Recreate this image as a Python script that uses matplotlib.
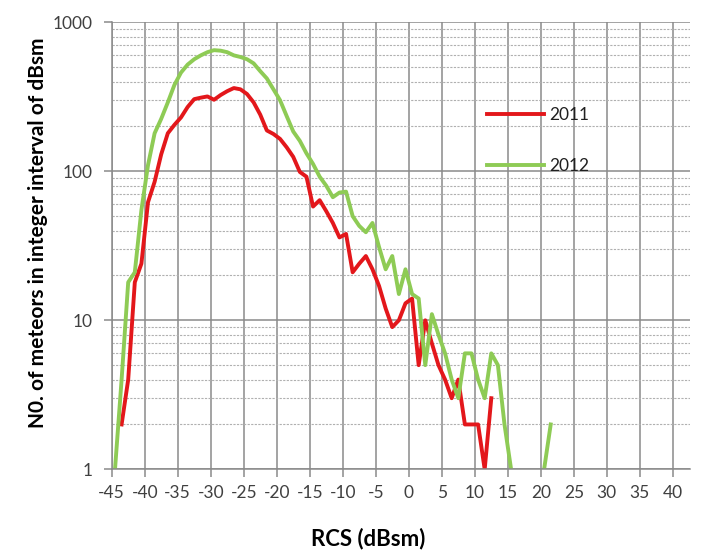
import matplotlib
matplotlib.use("Agg")
import matplotlib.pyplot as plt
import numpy as np
from matplotlib.ticker import FixedLocator, LogLocator, NullFormatter, FixedFormatter

nan = np.nan

# bin centres (dBsm)
rcs_centres = [-44.5, -43.5, -42.5, -41.5, -40.5, -39.5, -38.5, -37.5, -36.5, -35.5,
               -34.5, -33.5, -32.5, -31.5, -30.5, -29.5, -28.5, -27.5, -26.5, -25.5,
               -24.5, -23.5, -22.5, -21.5, -20.5, -19.5, -18.5, -17.5, -16.5, -15.5,
               -14.5, -13.5, -12.5, -11.5, -10.5, -9.5, -8.5, -7.5, -6.5, -5.5,
               -4.5, -3.5, -2.5, -1.5, -0.5, 0.5, 1.5, 2.5, 3.5, 4.5,
               5.5, 6.5, 7.5, 8.5, 9.5, 10.5, 11.5, 12.5, 13.5, 14.5,
               15.5, 16.5, 17.5, 18.5, 19.5, 20.5, 21.5]

counts_2011 = [nan, 2, 4, 18, 24, 62, 85, 130, 180, 205,
               230, 270, 305, 312, 318, 302, 325, 345, 362, 355,
               330, 290, 240, 188, 178, 165, 145, 125, 99, 92,
               58, 64, 54, 45, 36, 38, 21, 24, 27, 22,
               17, 12, 9, 10, 13, 14, 5, 10, 7, 5,
               4, 3, 4, 2, 2, 2, 1, 3, nan, nan,
               nan, nan, nan, nan, nan, nan, nan]

counts_2012 = [1, 4, 18, 21, 55, 110, 180, 225, 290, 380,
               460, 520, 565, 600, 630, 650, 645, 630, 600, 585,
               565, 530, 470, 420, 355, 300, 235, 185, 160, 132,
               112, 92, 80, 67, 72, 73, 50, 43, 39, 45,
               31, 22, 27, 15, 22, 15, 14, 5, 11, 8,
               6, 4, 3, 6, 6, 4, 3, 6, 5, 2,
               1, nan, nan, nan, nan, 1, 2]

x_ticks = [-45, -40, -35, -30, -25, -20, -15, -10, -5, 0, 5, 10, 15, 20, 25, 30, 35, 40]
y_ticks = [1, 10, 100, 1000]
y_tick_labels = ["1", "10", "100", "1000"]

FONT = ["Lato", "DejaVu Sans"]
plt.rcParams["font.family"] = FONT

fig = plt.figure(figsize=(7.02, 5.54), dpi=100)
ax = fig.add_axes([111.7 / 702, 1 - 469.3 / 554, (690 - 111.7) / 702, (469.3 - 22.3) / 554])

ax.plot(rcs_centres, counts_2011, color="#e3171b", lw=2.8, label="2011", solid_joinstyle="round")
ax.plot(rcs_centres, counts_2012, color="#8ecb55", lw=2.8, label="2012", solid_joinstyle="round")

ax.set_yscale("log")
ax.set_ylim(1, 1000)
ax.set_xlim(-45, 42.6)

ax.xaxis.set_major_locator(FixedLocator(x_ticks))
ax.set_xticklabels([str(t) for t in x_ticks])
ax.yaxis.set_major_locator(FixedLocator(y_ticks))
ax.yaxis.set_major_formatter(FixedFormatter(y_tick_labels))
ax.yaxis.set_minor_locator(LogLocator(base=10, subs=np.arange(2, 10)))
ax.yaxis.set_minor_formatter(NullFormatter())

ax.grid(True, which="major", axis="both", color="#8a8a8a", lw=1.1)
ax.grid(True, which="minor", axis="y", color="#b0b0b0", lw=0.8, linestyle=(0, (2, 1.2)))
ax.set_axisbelow(True)

for s in ["top", "right"]:
    ax.spines[s].set_visible(False)
for s in ["left", "bottom"]:
    ax.spines[s].set_color("#8a8a8a")
    ax.spines[s].set_linewidth(1.1)

ax.tick_params(axis="both", which="major", direction="out", length=6, width=1.1,
               color="#8a8a8a", labelcolor="#404040", labelsize=12.5)
ax.tick_params(axis="y", which="minor", length=0)
ax.tick_params(axis="x", pad=5)
ax.tick_params(axis="y", pad=8)

ax.set_xlabel("RCS (dBsm)", fontsize=16, fontweight="bold")
ax.xaxis.set_label_coords((368 - 111.7) / 578.3, -69 / 447, transform=ax.transAxes)
ax.xaxis.label.set_verticalalignment("center")
ax.set_ylabel("N0. of meteors in integer interval of dBsm", fontsize=15,
              fontweight="bold")
ax.yaxis.set_label_coords(-(111.7 - 38) / 578.3, 0.53, transform=ax.transAxes)
ax.yaxis.label.set_verticalalignment("center")

fig.legend(loc="upper left", bbox_to_anchor=(487 / 702, 1 - 107 / 554), frameon=False,
           fontsize=12.5, handlelength=3.3, handletextpad=0.3, labelspacing=2.0,
           borderpad=0, borderaxespad=0, labelcolor="#202020")

fig.savefig("out.png", dpi=100)
